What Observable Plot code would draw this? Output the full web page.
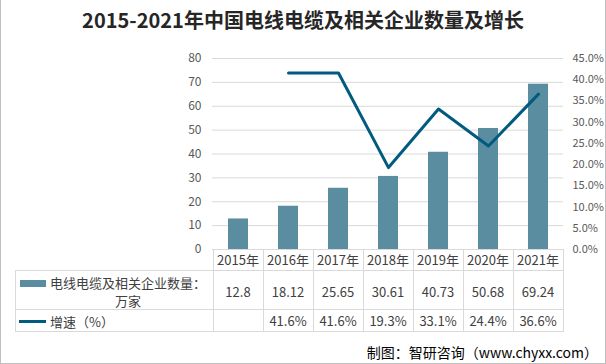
<!DOCTYPE html>
<html><head><meta charset="utf-8">
<script src="https://cdn.jsdelivr.net/npm/d3@7"></script>
<script src="https://cdn.jsdelivr.net/npm/@observablehq/plot@0.6"></script>
<style>
body{margin:0;background:#fff;}
#wrap{position:relative;width:606px;height:364px;overflow:hidden;font-family:"Noto Sans CJK SC","Noto Sans",sans-serif;background:#fff;}
#frame{position:absolute;left:0;top:0;width:606px;height:364px;box-sizing:border-box;border:1px solid #bfbfbf;border-top:none;pointer-events:none;}
#title{position:absolute;left:0;top:5px;width:606px;text-align:center;font-size:20px;font-weight:bold;color:#262626;}
#chart{position:absolute;left:0;top:0;}
#table{position:absolute;left:0;top:0;width:606px;height:364px;pointer-events:none;}
.cell{position:absolute;text-align:center;font-size:13px;color:#404040;white-space:nowrap;}
.hl{position:absolute;height:1px;background:#d9d9d9;}
.vl{position:absolute;width:1px;background:#d9d9d9;}
#footer{position:absolute;right:8px;top:342px;font-size:14px;color:#000;}
</style></head>
<body>
<div id="wrap">
  <div id="chart"></div>
  <div id="table"></div>
  <div id="title">2015-2021年中国电线电缆及相关企业数量及增长</div>
  <div id="footer">制图：智研咨询（www.chyxx.com）</div>
  <div id="frame"></div>
</div>
<script>
const years = ["2015年","2016年","2017年","2018年","2019年","2020年","2021年"];
const counts = [12.8, 18.12, 25.65, 30.61, 40.73, 50.68, 69.24];
const countLabels = ["12.8","18.12","25.65","30.61","40.73","50.68","69.24"];
const growth = [null, 41.6, 41.6, 19.3, 33.1, 24.4, 36.6];
const leftTicks = [0,10,20,30,40,50,60,70,80];
const rightTicks = [0,5,10,15,20,25,30,35,40,45];
const seriesBar = "电线电缆及相关企业数量：";
const seriesBar2 = "万家";
const seriesLine = "增速（%）";

const barColor = "#5b8da1";
const lineColor = "#005b7f";
const k = 80/45;

const data = years.map((y,i)=>({year:y, count:counts[i], growth:growth[i]}));
const lineData = data.filter(d=>d.growth!=null);

const chart = Plot.plot({
  width:606, height:364,
  marginTop:58, marginBottom:115, marginLeft:212, marginRight:43,
  style:{fontFamily:'"Noto Sans CJK SC","Noto Sans",sans-serif', fontSize:"12px", background:"transparent", overflow:"visible"},
  x:{type:"band", domain:years, padding:0, axis:null},
  y:{domain:[0,80], axis:null},
  marks:[
    Plot.ruleY(leftTicks, {stroke:"#d9d9d9", strokeWidth:1}),
    Plot.barY(data, {x:"year", y:"count", fill:barColor, insetLeft:15, insetRight:15}),
    Plot.lineY(lineData, {x:"year", y:d=>d.growth*k, stroke:lineColor, strokeWidth:3}),
    Plot.axisY(leftTicks, {anchor:"left", tickSize:0, tickPadding:11, label:null, fill:"#595959", fontSize:12}),
    Plot.axisY(rightTicks.map(t=>t*k), {anchor:"right", tickSize:0, tickPadding:9, label:null, fill:"#595959", fontSize:11, tickFormat:d=>(d/k).toFixed(1)+"%"})
  ]
});
document.getElementById("chart").appendChild(chart);

const xs = chart.scale("x");
const bw = xs.bandwidth;
const ys = chart.scale("y");
const top0 = ys.apply(0);
const rows = [top0, top0+21, top0+60, top0+82];
const tLeft = 15;
const tRight = xs.apply(years[years.length-1]) + bw;
const tbl = document.getElementById("table");
function add(cls, style, html){const e=document.createElement("div");e.className=cls;Object.assign(e.style,style);if(html!=null)e.innerHTML=html;tbl.appendChild(e);return e;}
add("hl",{left:tLeft+"px",top:rows[1]+"px",width:(tRight-tLeft+1)+"px"});
add("hl",{left:tLeft+"px",top:rows[2]+"px",width:(tRight-tLeft+1)+"px"});
add("hl",{left:tLeft+"px",top:rows[3]+"px",width:(tRight-tLeft+1)+"px"});
add("vl",{left:tLeft+"px",top:rows[1]+"px",height:(rows[3]-rows[1])+"px"});
years.forEach(y=>{add("vl",{left:xs.apply(y)+"px",top:rows[0]+"px",height:(rows[3]-rows[0])+"px"});});
add("vl",{left:tRight+"px",top:rows[0]+"px",height:(rows[3]-rows[0])+"px"});
years.forEach((y,i)=>{
  const x=xs.apply(y);
  add("cell",{left:x+"px",width:bw+"px",top:(rows[0]+1)+"px"},y);
  add("cell",{left:x+"px",width:bw+"px",top:(rows[1]+12)+"px"},countLabels[i]);
  add("cell",{left:x+"px",width:bw+"px",top:(rows[2]+2)+"px"},growth[i]==null?"":growth[i].toFixed(1)+"%");
});
add("",{position:"absolute",left:"20px",top:(rows[1]+10)+"px",width:"26px",height:"7px",background:barColor});
add("cell",{left:"50px",top:(rows[1]+3)+"px",textAlign:"left"},seriesBar);
add("cell",{left:"54px",width:"148px",top:(rows[1]+21)+"px"},seriesBar2);
add("",{position:"absolute",left:"19px",top:(rows[2]+11)+"px",width:"27px",height:"3px",background:lineColor});
add("cell",{left:"50px",top:(rows[2]+3)+"px",textAlign:"left"},seriesLine);
</script>
</body></html>
